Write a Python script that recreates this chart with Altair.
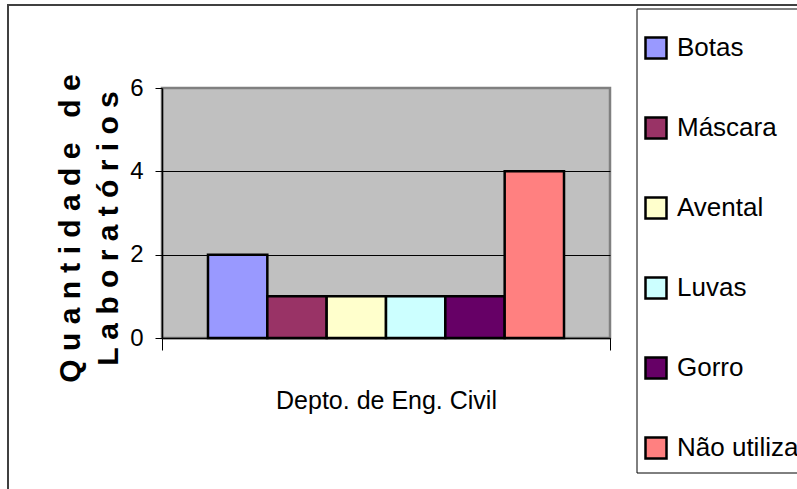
import altair as alt
import pandas as pd

# Equipment used in the labs of one department
department = ["Depto. de Eng. Civil"] * 6
items = ["Botas", "Máscara", "Avental", "Luvas", "Gorro", "Não utiliza"]
counts = [2, 1, 1, 1, 1, 4]
colors = ["#9999FF", "#993366", "#FFFFCC", "#CCFFFF", "#660066", "#FF8080"]
y_ticks = [0, 2, 4, 6]

FONT = "Liberation Sans"
NBSP = "\u00a0"

df = pd.DataFrame({"dept": department, "item": items, "count": counts})

bars = alt.Chart(df).mark_bar(stroke="black", strokeWidth=2.5).encode(
    x=alt.X(
        "dept:N",
        scale=alt.Scale(paddingInner=0, paddingOuter=0),
        axis=alt.Axis(
            title=None,
            labelFont=FONT,
            labelFontSize=25,
            labelColor="black",
            labelAngle=0,
            labelBaseline="alphabetic",
            labelPadding=58,
            labelLimit=400,
            tickBand="extent",
            tickSize=12,
            tickColor="black",
            domainColor="black",
            domainWidth=1.5,
            grid=False,
        ),
    ),
    xOffset=alt.XOffset(
        "item:N",
        sort=items,
        scale=alt.Scale(paddingInner=0, paddingOuter=0.775),
    ),
    y=alt.Y(
        "count:Q",
        scale=alt.Scale(domain=[0, 6], nice=False),
        axis=alt.Axis(
            values=y_ticks,
            title=[
                "Q u a n t i d a d e" + NBSP * 3 + "d e",
                "L a b o r a t ó r i o s",
            ],
            titleFont=FONT,
            titleFontSize=30,
            titleFontWeight="bold",
            titleColor="black",
            titleAngle=270,
            titleAlign="center",
            titleBaseline="alphabetic",
            titleLineHeight=38,
            titleX=-83,
            titleY=140,
            labelFont=FONT,
            labelFontSize=24,
            labelColor="black",
            labelPadding=12,
            tickSize=7,
            tickColor="black",
            domainColor="black",
            domainWidth=1.5,
            grid=True,
            gridColor={"condition": {"test": "datum.value === 6", "value": "#808080"}, "value": "black"},
            gridWidth=1,
        ),
    ),
    color=alt.Color(
        "item:N",
        sort=items,
        scale=alt.Scale(domain=items, range=colors),
        title=None,
        legend=alt.Legend(
            orient="none",
            legendX=481,
            legendY=-53,
            symbolType="square",
            symbolSize=441,
            symbolStrokeColor="black",
            symbolStrokeWidth=2.5,
            symbolOpacity=1,
            labelFont=FONT,
            labelFontSize=26,
            labelColor="black",
            labelOffset=8,
            rowPadding=48,
            padding=0,
            labelLimit=300,
        ),
    ),
)

frame_data = alt.Data(values=[{}])

# outer chart frame (runs off the right and bottom edges)
outer = alt.Chart(frame_data).mark_rect(
    filled=False, stroke="#404040", strokeWidth=2
).encode(
    x=alt.value(-154), x2=alt.value(700), y=alt.value(-83), y2=alt.value(500)
)

# box around the legend
legend_box = alt.Chart(frame_data).mark_rect(
    filled=False, stroke="black", strokeWidth=1
).encode(
    x=alt.value(475), x2=alt.value(700), y=alt.value(-79), y2=alt.value(385)
)

chart = alt.layer(outer, legend_box, bars).properties(
    width=448,
    height=250,
    autosize="none",
    padding={"left": 162, "top": 88, "right": 187, "bottom": 151},
    background="white",
).configure_view(
    fill="#C0C0C0", stroke="#808080", strokeWidth=2.5
)

chart.save("out.html", embed_options={"renderer": "svg", "actions": False})
